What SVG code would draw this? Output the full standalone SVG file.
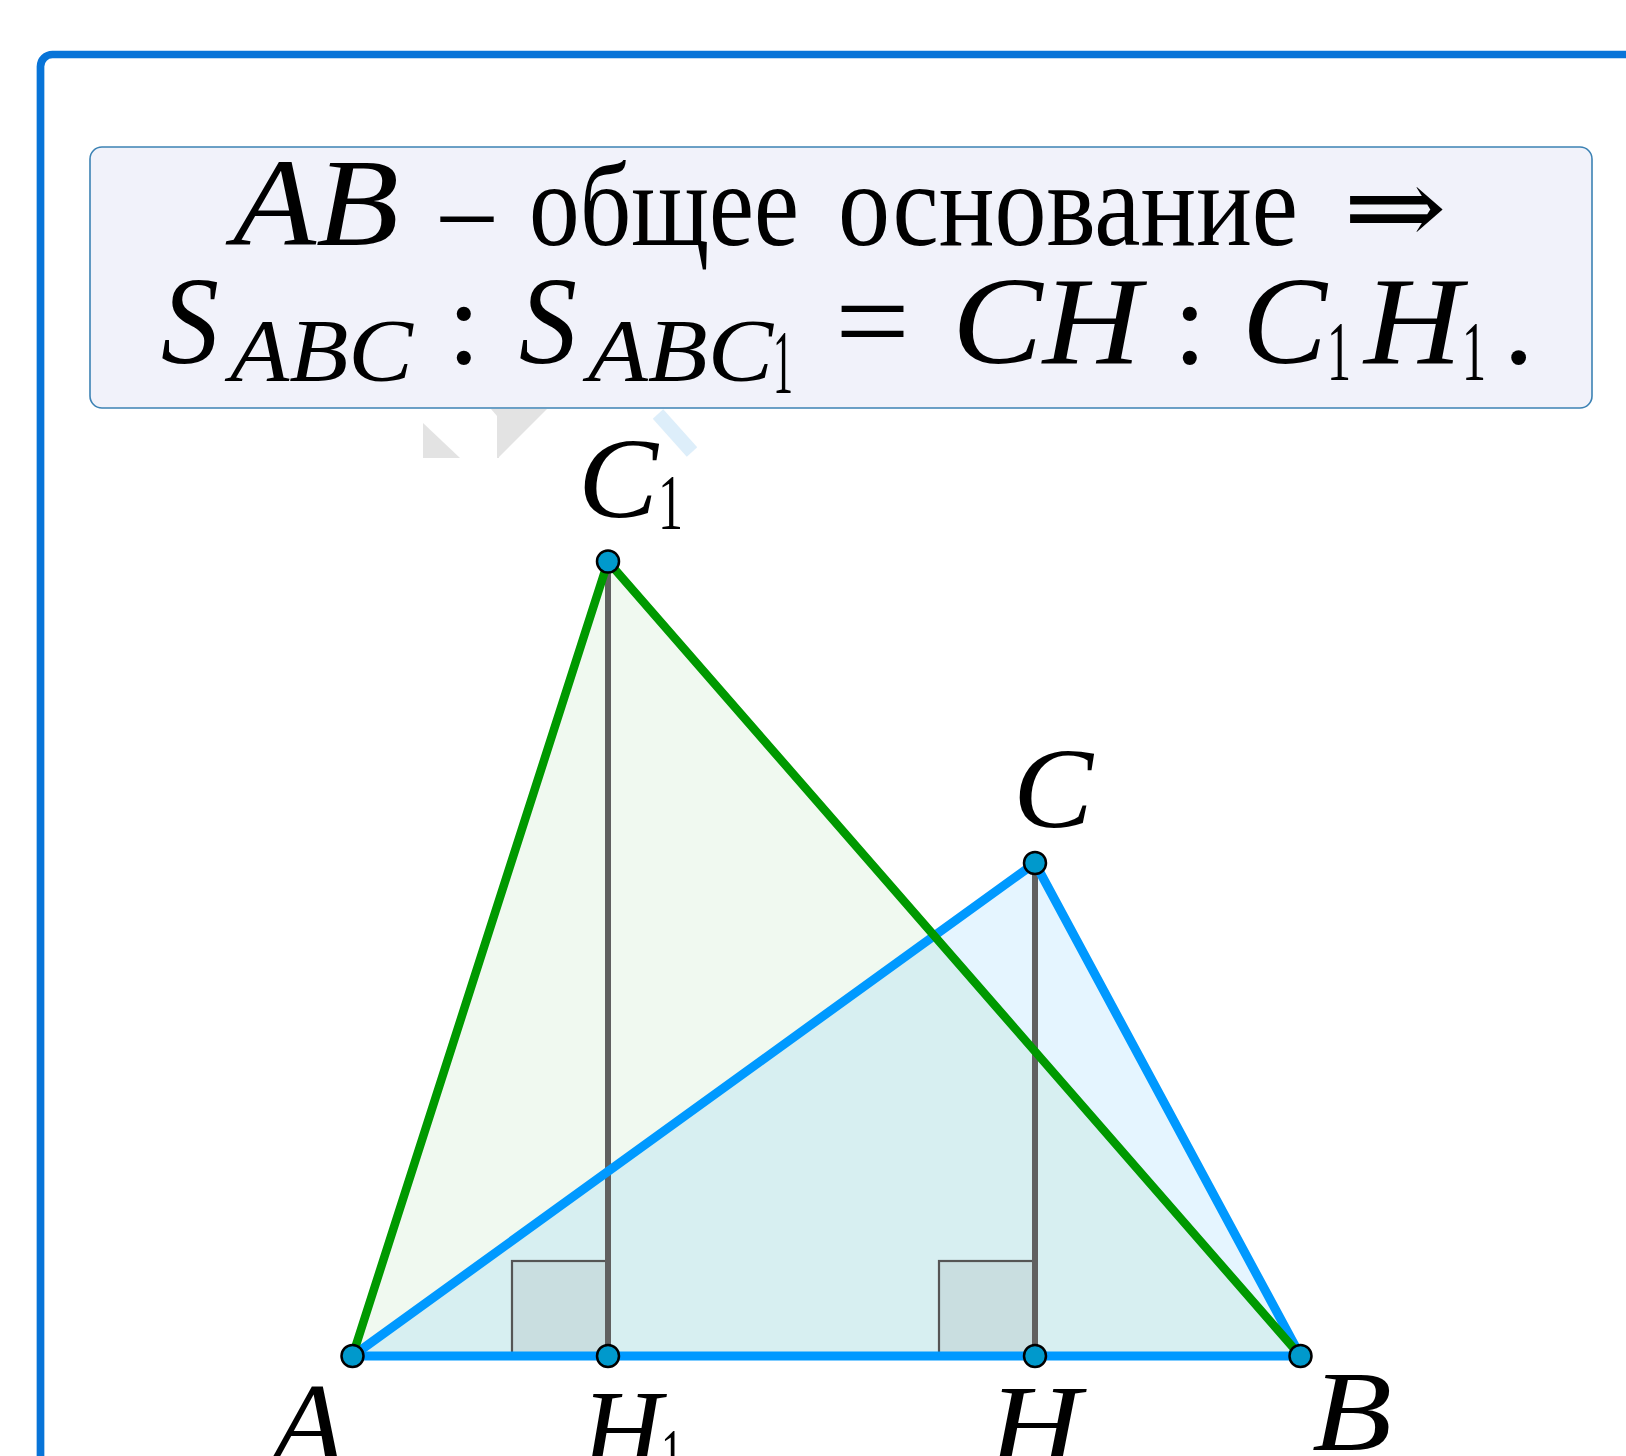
<svg xmlns="http://www.w3.org/2000/svg" width="1626" height="1456" viewBox="0 0 1626 1456">
<style>
.t{font-family:"Liberation Serif","DejaVu Serif",serif;fill:#000}
.i{font-style:italic}
.pt{fill:#0099cc;stroke:#000;stroke-width:2.5}
.alt{stroke:#606060;stroke-width:6;fill:none}
.sq{fill:rgba(80,80,80,0.1);stroke:#555;stroke-width:2.2}
.blue{stroke:#0099ff;stroke-width:9;fill:none;stroke-linecap:round}
.green{stroke:#009900;stroke-width:8.5;fill:none;stroke-linecap:round}
</style>
<rect width="1626" height="1456" fill="#fff"/>
<!-- frame -->
<path d="M40.5 1470 V66.5 A12 12 0 0 1 52.5 54.5 H1640" fill="none" stroke="#0874d8" stroke-width="7.7"/>
<!-- watermark fragments -->
<g id="watermark">
<polygon points="423,423 423,458 460,458" fill="#e3e3e3"/>
<polygon points="491,409 547,409 499,457 499,458 497,458 497,416" fill="#e3e3e3"/>
<line x1="658" y1="414" x2="692" y2="452" stroke="#ddeefa" stroke-width="14"/>
</g>
<!-- info box -->
<g id="info">
<rect x="90" y="147" width="1502" height="261" rx="12" fill="#f1f2fa" stroke="#3c82b4" stroke-width="1.6"/>
<text class="t i" x="233" y="245" font-size="125" textLength="166" lengthAdjust="spacingAndGlyphs">AB</text>
<text class="t" x="441" y="245" font-size="110" textLength="52" lengthAdjust="spacingAndGlyphs">–</text>
<text class="t" x="529" y="245" font-size="118" textLength="270" lengthAdjust="spacingAndGlyphs">общее</text>
<text class="t" x="838" y="245" font-size="118" textLength="460" lengthAdjust="spacingAndGlyphs">основание</text>
<text x="1343" y="245" font-family="DejaVu Serif,serif" font-size="110" textLength="104" lengthAdjust="spacingAndGlyphs">⇒</text>
<text class="t i" x="161" y="363" font-size="125" textLength="58" lengthAdjust="spacingAndGlyphs">S</text>
<text class="t i" x="230" y="380" font-size="88" textLength="183" lengthAdjust="spacingAndGlyphs">ABC</text>
<text class="t" x="464" y="363" font-size="120" text-anchor="middle">:</text>
<text class="t i" x="519" y="363" font-size="125" textLength="58" lengthAdjust="spacingAndGlyphs">S</text>
<text class="t i" x="588" y="380" font-size="88" textLength="185" lengthAdjust="spacingAndGlyphs">ABC</text>
<text class="t" x="773" y="393" font-size="92" textLength="20" lengthAdjust="spacingAndGlyphs">1</text>
<text class="t" x="835" y="363" font-size="125" textLength="75" lengthAdjust="spacingAndGlyphs">=</text>
<text class="t i" x="952" y="363" font-size="125" textLength="189" lengthAdjust="spacingAndGlyphs">CH</text>
<text class="t" x="1190" y="363" font-size="120" text-anchor="middle">:</text>
<text class="t i" x="1242" y="363" font-size="125" textLength="85" lengthAdjust="spacingAndGlyphs">C</text>
<text class="t" x="1327" y="380" font-size="84" textLength="24" lengthAdjust="spacingAndGlyphs">1</text>
<text class="t i" x="1364" y="363" font-size="125" textLength="98" lengthAdjust="spacingAndGlyphs">H</text>
<text class="t" x="1462" y="380" font-size="84" textLength="24" lengthAdjust="spacingAndGlyphs">1</text>
<text class="t" x="1503" y="363" font-size="125">.</text>
</g>
<!-- fills -->
<g id="fills">
<polygon points="352.5,1356 1300.5,1356 608,561.5" fill="rgba(0,153,0,0.06)"/>
<polygon points="352.5,1356 1300.5,1356 1035,863" fill="rgba(0,153,255,0.1)"/>
<rect class="sq" x="512" y="1261" width="96" height="95"/>
<rect class="sq" x="939" y="1261" width="96" height="95"/>
</g>
<!-- connectors -->
<g id="connectors">
<line class="alt" x1="608" y1="561.5" x2="608" y2="1356"/>
<line class="alt" x1="1035" y1="863" x2="1035" y2="1356"/>
<line class="blue" x1="352.5" y1="1356" x2="1300.5" y2="1356" stroke-width="10"/>
<line class="blue" x1="352.5" y1="1356" x2="1035" y2="863"/>
<line class="blue" x1="1035" y1="863" x2="1300.5" y2="1356"/>
<line class="green" x1="352.5" y1="1356" x2="608" y2="561.5"/>
<line class="green" x1="608" y1="561.5" x2="1300.5" y2="1356"/>
</g>
<!-- points -->
<g id="A"><circle class="pt" cx="352.5" cy="1356" r="11"/><text class="t i" x="272" y="1462" font-size="115" textLength="72" lengthAdjust="spacingAndGlyphs">A</text></g>
<g id="H1"><circle class="pt" cx="608" cy="1356" r="11"/><text class="t i" x="582" y="1469" font-size="115" textLength="80" lengthAdjust="spacingAndGlyphs">H</text><text class="t" x="661" y="1481" font-size="76" textLength="22" lengthAdjust="spacingAndGlyphs">1</text></g>
<g id="H"><circle class="pt" cx="1035" cy="1356" r="11"/><text class="t i" x="989" y="1464" font-size="115" textLength="92" lengthAdjust="spacingAndGlyphs">H</text></g>
<g id="B"><circle class="pt" cx="1300.5" cy="1356" r="11"/><text class="t i" x="1312" y="1450" font-size="115" textLength="80" lengthAdjust="spacingAndGlyphs">B</text></g>
<g id="C1"><circle class="pt" cx="608" cy="561.5" r="11"/><text class="t i" x="578" y="517" font-size="115" textLength="80" lengthAdjust="spacingAndGlyphs">C</text><text class="t" x="658" y="528" font-size="78" textLength="25" lengthAdjust="spacingAndGlyphs">1</text></g>
<g id="C"><circle class="pt" cx="1035" cy="863" r="11"/><text class="t i" x="1013" y="827" font-size="115" textLength="80" lengthAdjust="spacingAndGlyphs">C</text></g>
</svg>
